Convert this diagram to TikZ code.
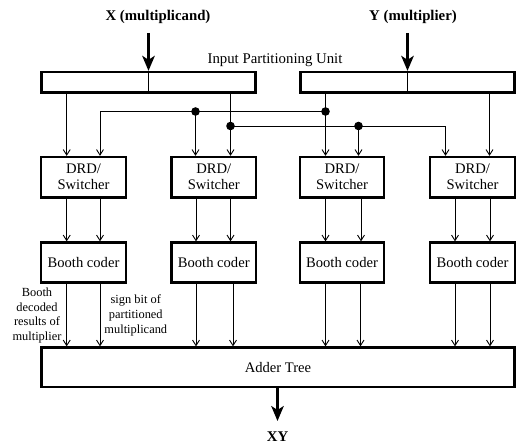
\documentclass[tikz,border=0pt]{standalone}
\usepackage{fontspec}
\setmainfont{Liberation Serif}
\usetikzlibrary{arrows.meta}
\begin{document}
\begin{tikzpicture}[x=1pt,y=-1pt,
  box/.style={draw, line width=2.3pt, inner sep=0pt, align=center, font=\fontsize{14.6}{16}\selectfont},
  wire/.style={line width=0.9pt},
  arr/.style={wire, -{Straight Barb[length=5.5pt,width=7pt]}},
  big/.style={line width=2.4pt, -{Stealth[length=15pt,width=12.5pt,inset=4pt]}},
  dot/.style={circle, fill, inner sep=0pt, minimum size=8.6pt},
  lbl/.style={inner sep=0pt, anchor=base, font=\fontsize{14.8}{16}\selectfont},
  bold/.style={inner sep=0pt, anchor=base, font=\fontsize{14.8}{16}\selectfont\bfseries},
  small/.style={inner sep=0pt, anchor=north, align=center, font=\fontsize{12.4}{14.8}\selectfont}]
\fill[white] (0,0) rectangle (516,444);
\useasboundingbox (0,0) rectangle (516,444);

% input partitioning boxes
\node[box, minimum width=214pt, minimum height=20.5pt] (Xb) at (148.5,82.25) {};
\node[box, minimum width=214pt, minimum height=20.5pt] (Yb) at (407.5,82.25) {};
\draw[wire] (Xb.north) -- (Xb.south);
\draw[wire] (Yb.north) -- (Yb.south);

% labels
\node[bold] (Xl) at (158,20.5) {X (multiplicand)};
\node[bold] (Yl) at (413,20.5) {Y (multiplier)};
\node[lbl] (IPU) at (275,63.3) {Input Partitioning Unit};

\coordinate (Xin) at (148.5,33);
\coordinate (Yin) at (407.5,33);
\draw[big] (Xin) -- (Xb.north);
\draw[big] (Yin) -- (Yb.north);

% DRD / Booth boxes
\foreach \i/\x in {1/83.5, 2/213.75, 3/342, 4/472.5} {
  \node[box, minimum width=84.5pt, minimum height=40.5pt] (D\i) at (\x,177.25) {DRD/\\Switcher};
  \node[box, minimum width=84.5pt, minimum height=40pt] (B\i) at (\x,262.5) {Booth coder};
}
\node[box, minimum width=473pt, minimum height=39.5pt] (A) at (278,367.25) {Adder Tree};

% junctions
\coordinate (J1) at (195.5,111.5);
\coordinate (J2) at (230.5,126);
\coordinate (J3) at (325.5,111.5);
\coordinate (J4) at (358.5,126);
\coordinate (K1) at (100,111.5);
\coordinate (K2) at (445.5,126);
\coordinate (a1) at (66.7,0);
\coordinate (b4) at (489.5,0);

\draw[arr] (Xb.south -| a1) -- (D1.north -| a1);
\draw[arr] (J3) -- (K1) -- (D1.north -| K1);
\draw[arr] (J1) -- (D2.north -| J1);
\draw[arr] (Xb.south -| J2) -- (D2.north -| J2);
\draw[arr] (Yb.south -| J3) -- (D3.north -| J3);
\draw[arr] (J4) -- (D3.north -| J4);
\draw[arr] (J2) -- (K2) -- (D4.north -| K2);
\draw[arr] (Yb.south -| b4) -- (D4.north -| b4);

\node[dot] (n1) at (J1) {};
\node[dot] (n2) at (J2) {};
\node[dot] (n3) at (J3) {};
\node[dot] (n4) at (J4) {};

% DRD -> Booth -> Adder
\foreach \i/\p/\q/\r/\s in {1/66.7/100/66.7/100, 2/196/230.5/196/233, 3/325.5/361/325.5/360.5, 4/455/490/455/490} {
  \coordinate (p\i) at (\p,0);
  \coordinate (q\i) at (\q,0);
  \coordinate (r\i) at (\r,0);
  \coordinate (s\i) at (\s,0);
  \draw[arr] (D\i.south -| p\i) -- (B\i.north -| p\i);
  \draw[arr] (D\i.south -| q\i) -- (B\i.north -| q\i);
  \draw[arr] (B\i.south -| r\i) -- (A.north -| r\i);
  \draw[arr] (B\i.south -| s\i) -- (A.north -| s\i);
}

\node[small] (L1) at (37,287.5) {Booth\\decoded\\results of\\multiplier};
\node[small] (L2) at (135.8,294.8) {sign bit of\\partitioned\\multiplicand};

% output
\coordinate (Out) at (277.5,421);
\coordinate (OutTop) at (277.5,387);
\draw[big] (A.south -| OutTop) -- (Out);
\node[bold] (XY) at (277.5,441.5) {XY};
\end{tikzpicture}
\end{document}
